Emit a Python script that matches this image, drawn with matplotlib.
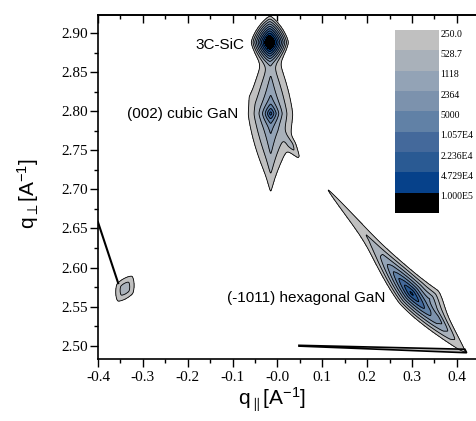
import matplotlib
matplotlib.use("Agg")
import matplotlib.pyplot as plt
import numpy as np
from matplotlib.colors import ListedColormap

# contour levels / legend
LEVELS = [250.0, 528.7, 1118.0, 2364.0, 5000.0, 1.057e4, 2.236e4, 4.729e4, 1.0e5]
LEVEL_LABELS = ["250.0", "528.7", "1118", "2364", "5000",
                "1.057E4", "2.236E4", "4.729E4", "1.000E5"]
LEVEL_COLORS = ["#c0c0c0", "#a9b1ba", "#93a3b6", "#7c92ad", "#6181a6",
                "#44699b", "#2a5a93", "#06418a", "#000000"]

# reflections: centre (q_par, q_perp), peak intensity, widths (px) along / across,
# angle (deg) and profile (1 = exponential, 2 = gaussian)
PEAK_QX = [-0.017, -0.015, -0.015, -0.015, -0.015, 0.030,
           0.299, 0.246, 0.355, 0.340, -0.340]
PEAK_QZ = [2.888, 2.797, 2.797, 2.795, 2.792, 2.757,
           2.567, 2.609, 2.536, 2.560, 2.573]
PEAK_AMP = [1.0e6, 3.0e4, 2500.0, 600.0, 1200.0, 400.0,
            6.0e4, 700.0, 3000.0, 1500.0, 700.0]
PEAK_LEN = [3.0, 3.5, 22.0, 51.0, 31.0, 12.0,
            11.0, 90.0, 10.0, 10.0, 14.0]
PEAK_WID = [2.2, 2.5, 6.0, 20.0, 2.0, 4.0,
            2.8, 5.0, 2.2, 6.0, 9.0]
PEAK_ANGLE = [90.0, 90.0, 90.0, 90.0, 90.0, -60.0,
              -49.7, -49.7, -49.7, -49.7, 60.0]
PEAK_PROFILE = [1, 1, 1, 2, 1, 2,
                1, 1, 1, 1, 2]

# straight artefact traces left by the gridding
EDGE_LEFT_QX = [-0.400, -0.355]
EDGE_LEFT_QZ = [2.658, 2.580]
WEDGE_QX = [0.048, 0.418, 0.422, 0.048]
WEDGE_QZ = [2.5005, 2.4955, 2.491, 2.4995]

LABELS = ["3C-SiC", "(002) cubic GaN", "(-1011) hexagonal GaN"]
LABEL_QX = [-0.073, -0.088, 0.241]
LABEL_QZ = [2.884, 2.797, 2.561]

XLIM = (-0.4, 0.445)
YLIM = (2.483, 2.923)
PX_X = 449.0   # pixels per unit on screen, keeps peak shapes like the image
PX_Y = 780.0


def intensity_map(qx, qz):
    z = np.zeros_like(qx)
    for cx, cz, amp, la, wc, ang, prof in zip(PEAK_QX, PEAK_QZ, PEAK_AMP,
                                              PEAK_LEN, PEAK_WID, PEAK_ANGLE,
                                              PEAK_PROFILE):
        dx = (qx - cx) * PX_X
        dz = (qz - cz) * PX_Y
        t = np.deg2rad(ang)
        a = dx * np.cos(t) + dz * np.sin(t)
        c = -dx * np.sin(t) + dz * np.cos(t)
        r = ((np.abs(a) / la) ** 1.4 + (np.abs(c) / wc) ** 1.4) ** (1 / 1.4)
        z += amp * np.exp(-r ** prof)
    return z


def main():
    plt.rcParams["mathtext.fontset"] = "custom"
    plt.rcParams["mathtext.rm"] = "Liberation Sans"
    plt.rcParams["mathtext.it"] = "Liberation Sans"

    fig = plt.figure(figsize=(4.77, 4.21), dpi=100)
    ax = fig.add_axes([98 / 477, 62 / 421, 379 / 477, 344 / 421])

    qx, qz = np.meshgrid(np.linspace(*XLIM, 700), np.linspace(*YLIM, 600))
    z = intensity_map(qx, qz)

    ax.contourf(qx, qz, z, levels=LEVELS + [1e12], colors=LEVEL_COLORS)
    ax.contour(qx, qz, z, levels=LEVELS, colors="k", linewidths=0.6)

    ax.plot(EDGE_LEFT_QX, EDGE_LEFT_QZ, color="k", lw=1.5)
    ax.fill(WEDGE_QX, WEDGE_QZ, facecolor=LEVEL_COLORS[0], edgecolor="k", lw=1.2)

    for text, x, y in zip(LABELS, LABEL_QX, LABEL_QZ):
        ax.text(x, y, text, ha="right", va="center", fontsize=11,
                family="Liberation Sans")

    xmaj = np.arange(-0.4, 0.41, 0.1)
    xmin = np.arange(-0.4, 0.44, 0.05)
    ymaj = np.arange(2.50, 2.91, 0.05)
    ax.set_xlim(*XLIM)
    ax.set_ylim(*YLIM)
    ax.set_xticks(xmaj)
    ax.set_xticks(xmin, minor=True)
    ax.set_yticks(ymaj)
    ax.set_yticks(np.arange(2.50, 2.92, 0.025), minor=True)
    ax.set_xticklabels([f"{v:.1f}" for v in xmaj])
    ax.set_yticklabels([f"{v:.2f}" for v in ymaj])
    for lab in ax.get_xticklabels() + ax.get_yticklabels():
        lab.set_family("Liberation Serif")
        lab.set_fontsize(11)

    ax.tick_params(which="both", direction="out", width=1.0,
                   top=False, right=False)
    ax.tick_params(axis="x", pad=3)
    ax.tick_params(axis="y", pad=2)
    ax.tick_params(which="major", length=5.5)
    ax.tick_params(which="minor", length=3)
    ax.spines["right"].set_visible(False)
    for s in ("left", "bottom", "top"):
        ax.spines[s].set_linewidth(1.2)

    # top axis: ticks pointing inward, no labels
    top = ax.secondary_xaxis("top")
    top.set_xticks(xmaj)
    top.set_xticks(xmin, minor=True)
    top.tick_params(which="both", direction="in", width=1.0, labeltop=False)
    top.tick_params(which="major", length=5.5)
    top.tick_params(which="minor", length=3)
    top.spines["top"].set_linewidth(1.2)

    ax.set_xlabel(r"q$_{\parallel}$[A$^{-1}$]", fontsize=15,
                  family="Liberation Sans")
    ax.xaxis.set_label_coords((272 - 98) / 379, -0.078)
    ax.set_ylabel(r"q$_{\perp}$[A$^{-1}$]", fontsize=15,
                  family="Liberation Sans")
    ax.yaxis.set_label_coords(-0.15, 0.48)

    # colour box legend
    cax = fig.add_axes([395 / 477, 1 - 213 / 421, 44 / 477, 183 / 421])
    cax.pcolormesh([0, 1], np.arange(len(LEVELS) + 1),
                   np.arange(len(LEVELS)).reshape(-1, 1),
                   cmap=ListedColormap(LEVEL_COLORS), shading="flat")
    cax.set_ylim(len(LEVELS), 0)
    cax.set_xlim(0, 1)
    cax.set_xticks([])
    cax.set_yticks(np.arange(len(LEVELS)) + 0.15)
    cax.set_yticklabels(LEVEL_LABELS, family="Liberation Serif", fontsize=7)
    cax.yaxis.tick_right()
    cax.tick_params(length=0, pad=1)
    for s in cax.spines.values():
        s.set_visible(False)

    fig.savefig("out.png", dpi=100)


if __name__ == "__main__":
    main()
